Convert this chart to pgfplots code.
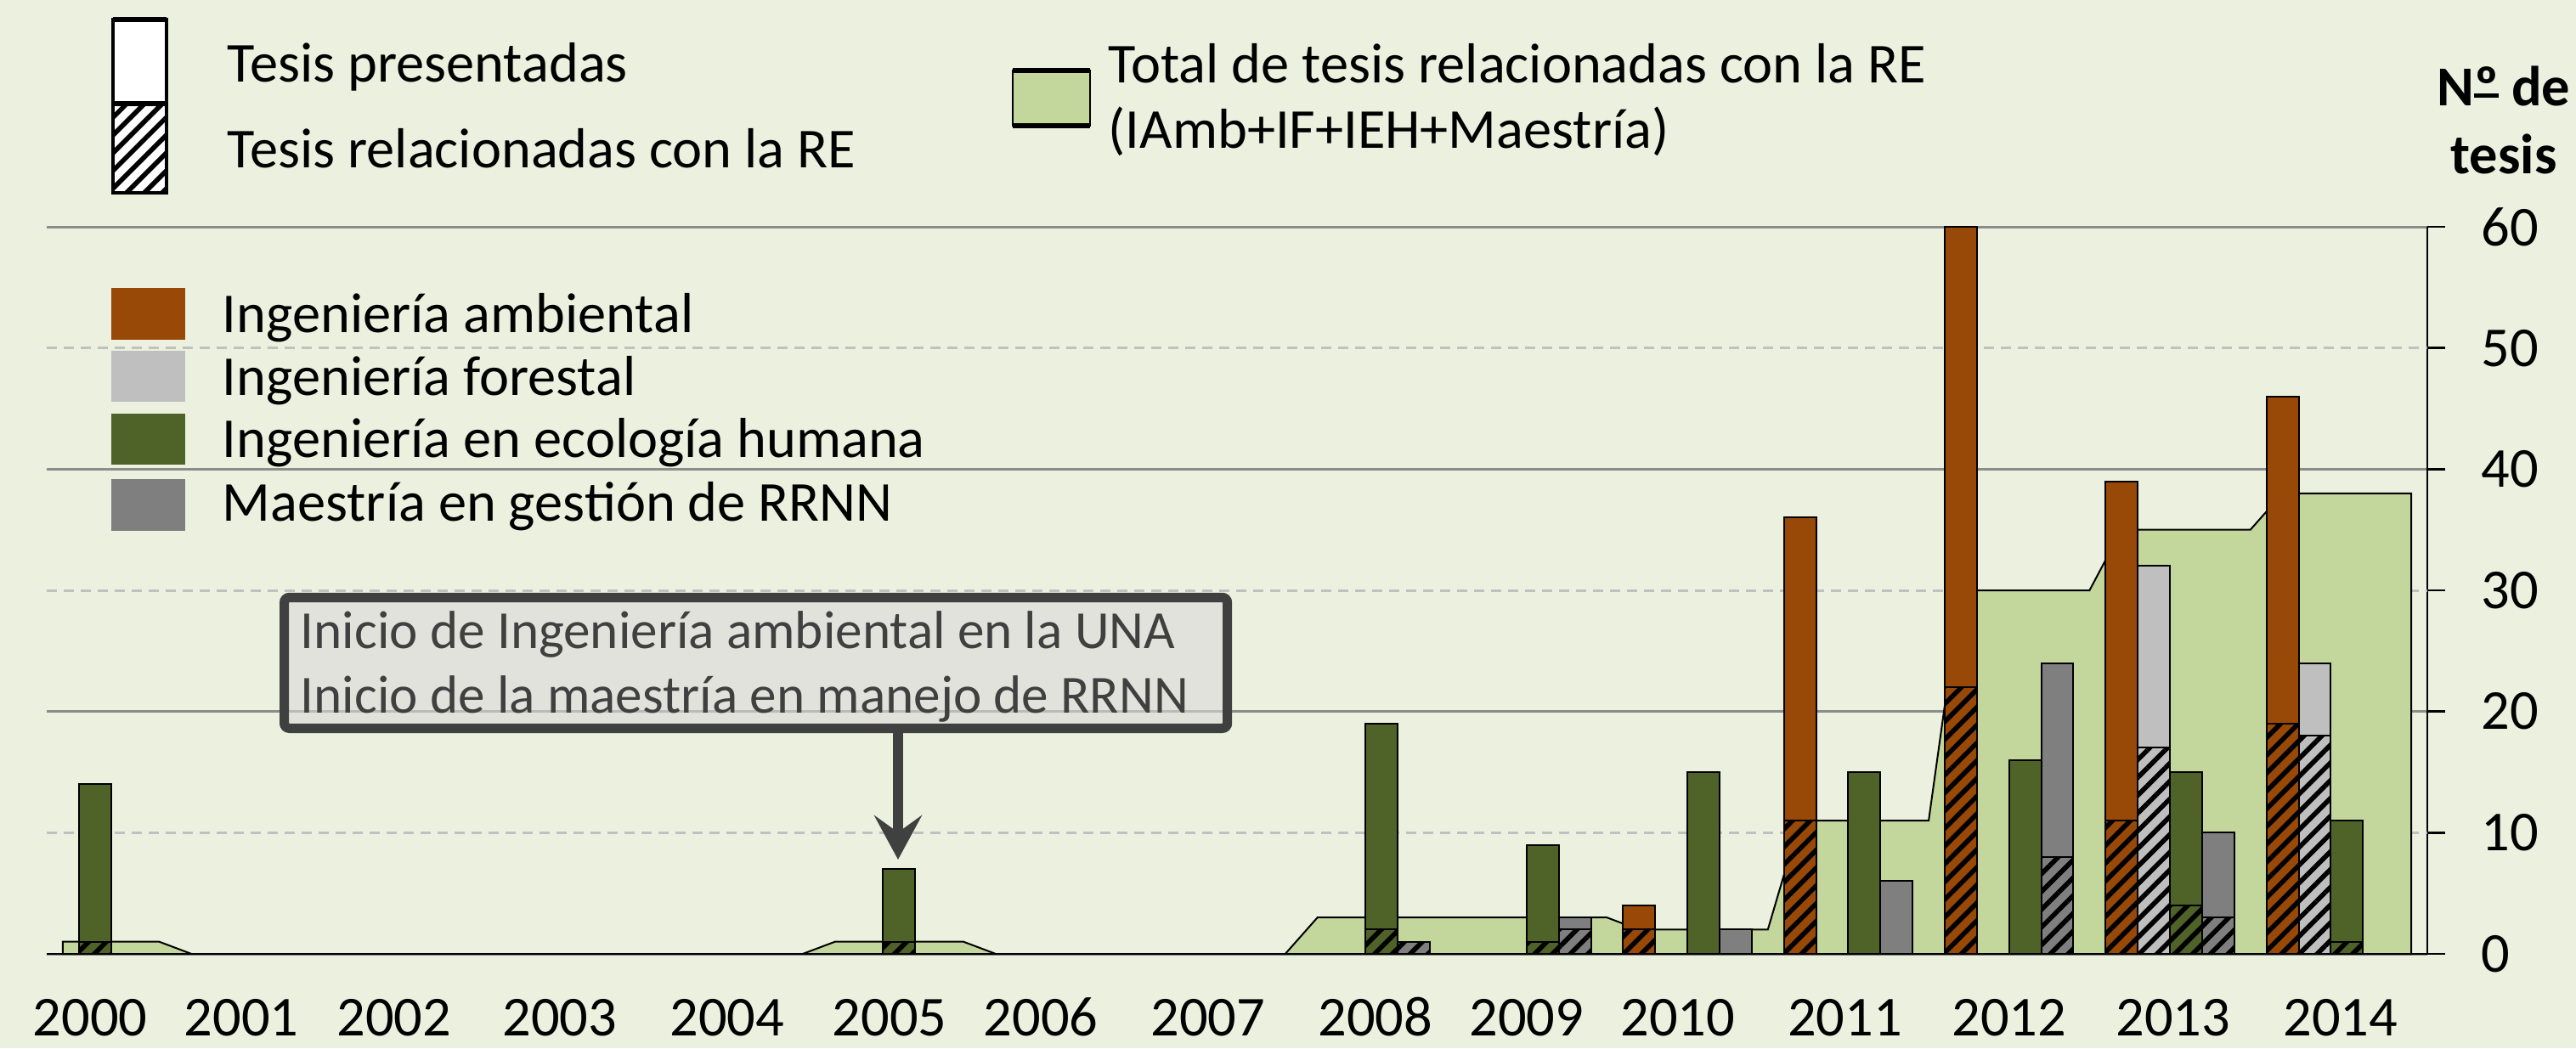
\documentclass[border=0pt]{standalone}
\usepackage{fontspec}
\setmainfont{Carlito}
\usepackage{pgfplots}
\pgfplotsset{compat=1.18}
\usetikzlibrary{patterns.meta, arrows.meta}
\definecolor{bg}{HTML}{EBF1DE}
\definecolor{amb}{HTML}{984807}
\definecolor{forest}{HTML}{BFBFBF}
\definecolor{ecol}{HTML}{4F6228}
\definecolor{maes}{HTML}{7F7F7F}
\definecolor{areag}{HTML}{C3D69B}
\definecolor{gridd}{HTML}{8C8C8C}
\definecolor{gridl}{HTML}{C0C0C0}
\definecolor{boxb}{HTML}{404040}
\definecolor{boxf}{HTML}{D9D9D9}
\newcommand\bigf{\fontsize{16.6}{20}\selectfont}
\newcommand\annf{\fontsize{15.8}{19}\selectfont}
\newlength\ordw
\tikzset{hatch/.style={postaction={pattern={Lines[angle=45,distance=3.7pt,line width=1.4pt]},pattern color=black}}}
\pgfplotsset{barsty/.style={ybar, bar width=1, bar shift=0pt, draw=black, line width=0.5pt}}
\begin{document}
\begin{tikzpicture}
\fill[bg] (-13.75pt,-27.75pt) rectangle (744.25pt,280.75pt);
\begin{axis}[
 at={(0pt,0pt)}, anchor=south west,
 scale only axis, width=700.5pt, height=214pt,
 xmin=1, xmax=75, ymin=0, ymax=60,
 axis x line*=bottom, axis y line*=right,
 xtick={2.35,7.05,11.8,16.95,22.15,27.2,31.9,37.1,42.3,47.0,51.7,56.9,62.0,67.1,72.3},
 xticklabels={2000,2001,2002,2003,2004,2005,2006,2007,2008,2009,2010,2011,2012,2013,2014},
 x tick style={draw=none},
 xticklabel style={anchor=base, inner sep=0pt, yshift=-18.75pt, font=\bigf},
 ytick={0,20,40,60}, extra y ticks={10,30,50},
 ymajorgrids, major grid style={gridd, line width=0.75pt},
 extra y tick style={ymajorgrids=true, major grid style={gridl, line width=0.75pt, dash pattern=on 3pt off 2pt}},
 tick align=outside, major tick length=5.25pt,
 y tick style={black, line width=0.6pt},
 yticklabel style={anchor=west, inner sep=0pt, xshift=10.5pt, font=\bigf},
 /pgf/number format/assume math mode=true,
 axis line style={black, line width=0.6pt},
 clip=false,
]
% total of theses related to RE (area)
\addplot[fill=areag, draw=black, line width=0.5pt] coordinates {
 (1.5,1) (4.5,1) (5.5,0) (9.5,0) (10.5,0) (14.5,0) (15.5,0) (19.5,0) (20.5,0) (24.5,0)
 (25.5,1) (29.5,1) (30.5,0) (34.5,0) (35.5,0) (39.5,0) (40.5,3) (44.5,3) (45.5,3) (49.5,3)
 (50.5,2) (54.5,2) (55.5,11) (59.5,11) (60.5,30) (64.5,30) (65.5,35) (69.5,35) (70.5,38) (74.5,38)
} \closedcycle;
% Ingenieria ambiental
\addplot[barsty, fill=amb] coordinates {(50.5,4) (55.5,36) (60.5,60) (65.5,39) (70.5,46)};
\addplot[barsty, fill=amb, hatch] coordinates {(50.5,2) (55.5,11) (60.5,22) (65.5,11) (70.5,19)};
% Ingenieria forestal
\addplot[barsty, fill=forest] coordinates {(66.5,32) (71.5,24)};
\addplot[barsty, fill=forest, hatch] coordinates {(66.5,17) (71.5,18)};
% Ingenieria en ecologia humana
\addplot[barsty, fill=ecol] coordinates {(2.5,14) (27.5,7) (42.5,19) (47.5,9) (52.5,15) (57.5,15) (62.5,16) (67.5,15) (72.5,11)};
\addplot[barsty, fill=ecol, hatch] coordinates {(2.5,1) (27.5,1) (42.5,2) (47.5,1) (67.5,4) (72.5,1)};
% Maestria
\addplot[barsty, fill=maes] coordinates {(43.5,1) (48.5,3) (53.5,2) (58.5,6) (63.5,24) (68.5,10)};
\addplot[barsty, fill=maes, hatch] coordinates {(43.5,1) (48.5,2) (63.5,8) (68.5,3)};
\end{axis}
% legend 1
\fill[white] (19.5pt,224pt) rectangle (35.25pt,275pt);
\path[pattern={Lines[angle=45,distance=3.7pt,line width=1.4pt]}, pattern color=black] (19.5pt,224pt) rectangle (35.25pt,250.25pt);
\draw[black, line width=0.9pt] (19.5pt,224pt) rectangle (35.25pt,275pt);
\draw[black, line width=1.3pt] (19.5pt,250.25pt) -- (35.25pt,250.25pt);
\draw[black, line width=1.3pt] (19.5pt,275pt) -- (35.25pt,275pt);
\node[anchor=base west, inner sep=0pt] at (53pt,256.5pt) {\bigf Tesis presentadas};
\node[anchor=base west, inner sep=0pt] at (53pt,231.25pt) {\bigf Tesis relacionadas con la RE};
% legend 2
\fill[areag] (284.25pt,243.75pt) rectangle (307pt,260pt);
\draw[black, line width=0.6pt] (284.25pt,243.75pt) rectangle (307pt,260pt);
\draw[black, line width=1.3pt] (284.25pt,260pt) -- (307pt,260pt);
\draw[black, line width=1.3pt] (284.25pt,243.75pt) -- (307pt,243.75pt);
\node[anchor=base west, inner sep=0pt] at (312.25pt,256.25pt) {\bigf Total de tesis relacionadas con la RE};
\node[anchor=base west, inner sep=0pt] at (312.25pt,237pt) {\bigf (IAmb+IF+IEH+Maestría)};
% axis title
\node[anchor=base, inner sep=0pt] at (723pt,249.5pt) {\bigf\bfseries\settowidth\ordw{º}N\rlap{\rule[2.6pt]{\ordw}{1.1pt}}º de};
\node[anchor=base, inner sep=0pt] at (723pt,229.5pt) {\bigf\bfseries tesis};
% program legend
\fill[amb] (19pt,180.75pt) rectangle (40.75pt,196pt);
\fill[forest] (19pt,162.5pt) rectangle (40.75pt,177.5pt);
\fill[ecol] (19pt,144pt) rectangle (40.75pt,159pt);
\fill[maes] (19pt,124.5pt) rectangle (40.75pt,139.75pt);
\node[anchor=base west, inner sep=0pt] at (51.5pt,182.75pt) {\bigf Ingeniería ambiental};
\node[anchor=base west, inner sep=0pt] at (51.5pt,164.5pt) {\bigf Ingeniería forestal};
\node[anchor=base west, inner sep=0pt] at (51.5pt,146.25pt) {\bigf Ingeniería en ecología humana};
\node[anchor=base west, inner sep=0pt] at (51.5pt,127.5pt) {\bigf Maestría en gestión de RRNN};
% annotation
\filldraw[draw=boxb, fill=boxf, fill opacity=0.6, line width=2.8pt, rounded corners=1.5pt] (69.9pt,66.4pt) rectangle (347.4pt,104.9pt);
\node[anchor=base west, inner sep=0pt, text=boxb] at (74.5pt,90pt) {\annf Inicio de Ingeniería ambiental en la UNA};
\node[anchor=base west, inner sep=0pt, text=boxb] at (74.5pt,71pt) {\annf Inicio de la maestría en manejo de RRNN};
\draw[boxb, line width=3pt, -{Stealth[length=13pt, width=14pt, inset=5pt]}] (250.5pt,65pt) -- (250.5pt,27.75pt);
\end{tikzpicture}
\end{document}
